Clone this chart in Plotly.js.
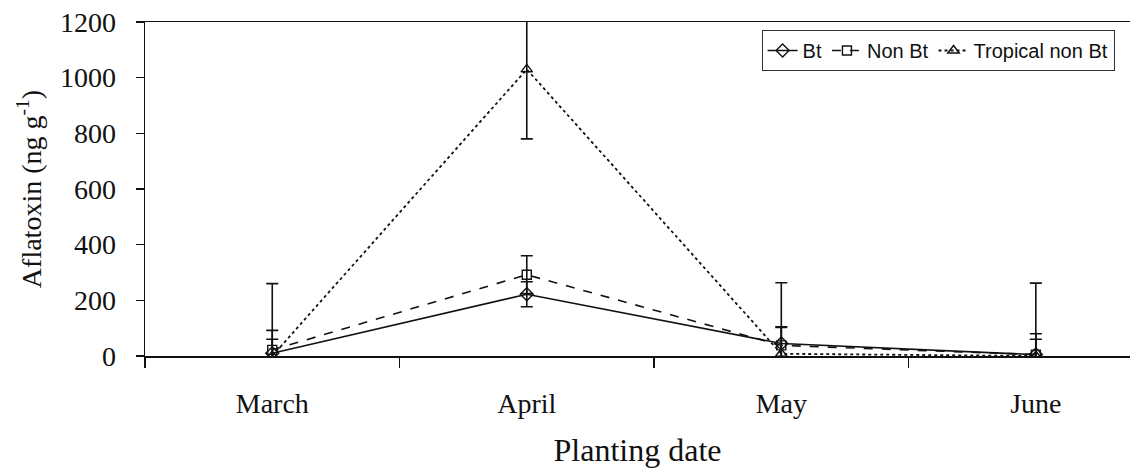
<!DOCTYPE html>
<html>
<head>
<meta charset="utf-8">
<script src="https://cdn.plot.ly/plotly-3.0.1.min.js"></script>
<style>html,body{margin:0;padding:0;background:#fff;}#chart{width:1130px;height:468px;}</style>
</head>
<body>
<div id="chart"></div>
<script>
const months = ["March", "April", "May", "June"];
const btValues = [10, 222, 45, 5];
const btErrors = [50, 45, 60, 55];
const nonBtValues = [22, 292, 38, 5];
const nonBtErrors = [70, 68, 65, 75];
const tropicalValues = [0, 1030, 8, 0];
const tropicalErrors = [260, 250, 255, 262];

const serif = "Liberation Serif, Times New Roman, serif";
const sans = "Liberation Sans, Arial, sans-serif";

function errObj(arr){
  return {type:"data", array:arr, visible:true, color:"#111", thickness:1.6, width:6};
}

const traces = [
  {name:"Bt", x:months, y:btValues, type:"scatter", mode:"lines+markers",
   line:{color:"#111", width:1.6, dash:"solid"},
   marker:{symbol:"diamond-open", size:10, color:"#111", line:{width:1.4}},
   error_y:errObj(btErrors)},
  {name:"Non Bt", x:months, y:nonBtValues, type:"scatter", mode:"lines+markers",
   line:{color:"#111", width:1.6, dash:"dash"},
   marker:{symbol:"square-open", size:9, color:"#111", line:{width:1.4}},
   error_y:errObj(nonBtErrors)},
  {name:"Tropical non Bt", x:months, y:tropicalValues, type:"scatter", mode:"lines+markers",
   line:{color:"#111", width:1.8, dash:"dot"},
   marker:{symbol:"triangle-up-open", size:10, color:"#111", line:{width:1.4}},
   error_y:errObj(tropicalErrors)}
];

const layout = {
  width:1130, height:468,
  margin:{l:145, r:0, t:22, b:112},
  paper_bgcolor:"#fff", plot_bgcolor:"#fff",
  font:{family:serif, color:"#111"},
  showlegend:true,
  legend:{orientation:"h", x:0.626, y:0.976, xanchor:"left", yanchor:"top",
    bordercolor:"#333", borderwidth:1, bgcolor:"#fff",
    font:{family:sans, size:20, color:"#111"},
    tracegroupgap:0},
  xaxis:{
    type:"category", range:[-0.5, 3.37],
    showline:true, linecolor:"#111", linewidth:1.5, mirror:true,
    showgrid:false, zeroline:false,
    ticks:"outside", ticklen:10, tickwidth:1.2, tickcolor:"#111",
    tickson:"boundaries", ticklabelstandoff:22,
    tickfont:{size:28, family:serif},
    title:{text:"Planting date", font:{size:32, family:serif}, standoff:26}
  },
  yaxis:{
    range:[0, 1200], tickvals:[0,200,400,600,800,1000,1200],
    showline:true, linecolor:"#111", linewidth:1.5,
    showgrid:false, zeroline:false,
    ticks:"outside", ticklen:8, tickwidth:1.2, tickcolor:"#111",
    ticklabelstandoff:14,
    tickfont:{size:28, family:serif},
    title:{text:"Aflatoxin (ng g<sup>-1</sup>)", font:{size:28, family:serif}, standoff:10}
  }
};

Plotly.newPlot("chart", traces, layout, {displayModeBar:false, staticPlot:true});
</script>
</body>
</html>
